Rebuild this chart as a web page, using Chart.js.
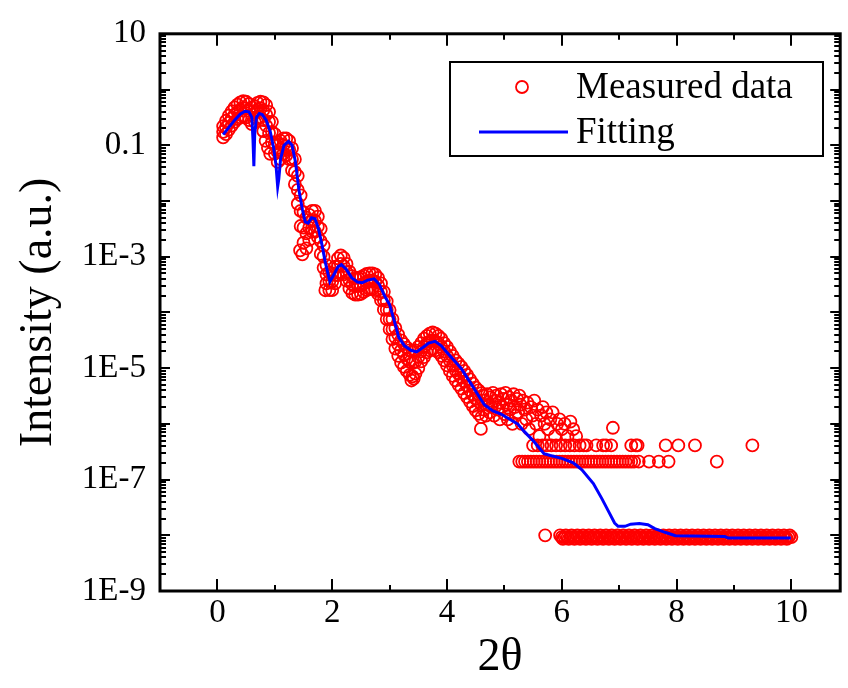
<!DOCTYPE html>
<html>
<head>
<meta charset="utf-8">
<script src="https://cdn.jsdelivr.net/npm/chart.js@4.4.1/dist/chart.umd.min.js"></script>
<style>
  html, body { margin: 0; padding: 0; background: #fff; }
  #wrap { width: 848px; height: 688px; }
</style>
</head>
<body>
<div id="wrap"><canvas id="myChart" width="848" height="688"></canvas></div>
<script>
// tick labels
const xTickValues = [0, 2, 4, 6, 8, 10];
const yTickValues = [10, 0.1, 1e-3, 1e-5, 1e-7, 1e-9];
const yTickLabels = ['10', '0.1', '1E-3', '1E-5', '1E-7', '1E-9'];

// fitted curve
const fitX = [0.10, 0.20, 0.30, 0.40, 0.48, 0.55, 0.60, 0.62, 0.635, 0.65, 0.68, 0.73, 0.78, 0.85, 0.92, 0.98,
    1.02, 1.05, 1.07, 1.10, 1.16, 1.24, 1.30, 1.36, 1.42, 1.48, 1.53, 1.58, 1.64, 1.70, 1.76, 1.82, 1.88, 1.96,
    2.04, 2.10, 2.16, 2.24, 2.34, 2.44, 2.52, 2.62, 2.73, 2.82, 2.92, 3.00, 3.08, 3.16, 3.26, 3.37, 3.47, 3.58,
    3.68, 3.79, 3.90, 4.00, 4.12, 4.25, 4.40, 4.55, 4.65, 4.80, 4.94, 5.10, 5.23, 5.34, 5.50, 5.69, 5.80, 6.00,
    6.20, 6.35, 6.55, 6.70, 6.83, 6.92, 6.98, 7.10, 7.20, 7.35, 7.50, 7.62, 7.81, 7.98, 8.84, 8.90, 9.99];
const fitY = [0.155, 0.209, 0.282, 0.363, 0.407, 0.398, 0.316, 0.126, 0.042, 0.158, 0.316, 0.372, 0.355, 0.282, 0.178, 0.089,
    0.045, 0.018, 0.025, 0.056, 0.100, 0.117, 0.100, 0.050, 0.0158, 0.0071, 0.0042, 0.0040, 0.0050, 0.0048, 0.0032, 0.00166, 0.00079, 0.000355,
    0.00050, 0.00066, 0.00072, 0.00060, 0.00042, 0.00035, 0.00034, 0.00038, 0.00040, 0.00032, 0.00019, 0.000138, 7.1e-5, 3.55e-5, 2.51e-5, 2.09e-5, 1.95e-5, 2.34e-5,
    2.82e-5, 3.02e-5, 2.51e-5, 1.91e-5, 1.38e-5, 9.8e-6, 5.6e-6, 3.2e-6, 2.2e-6, 1.7e-6, 1.5e-6, 1.2e-6, 1.0e-6, 7.4e-7, 5.0e-7, 2.9e-7, 2.7e-7, 2.4e-7,
    2.0e-7, 1.5e-7, 8.5e-8, 4.5e-8, 2.5e-8, 1.66e-8, 1.45e-8, 1.45e-8, 1.58e-8, 1.62e-8, 1.55e-8, 1.32e-8, 1.12e-8, 9.8e-9, 9.5e-9, 8.9e-9, 8.9e-9];

// measured data, dense part: one x column with upper / middle / lower edge of the band
const bandX = [0.10, 0.15, 0.20, 0.25, 0.30, 0.35, 0.40, 0.45, 0.50, 0.55, 0.60, 0.65, 0.70, 0.75, 0.80, 0.85, 0.90, 0.95, 1.00,
    1.05, 1.10, 1.15, 1.20, 1.25, 1.30, 1.35, 1.40, 1.45, 1.50, 1.55, 1.60, 1.65, 1.70, 1.75, 1.80, 1.85, 1.90, 1.95, 2.00,
    2.05, 2.10, 2.15, 2.20, 2.25, 2.30, 2.35, 2.40, 2.45, 2.50, 2.55, 2.60, 2.65, 2.70, 2.75, 2.80, 2.85, 2.90, 2.95, 3.00,
    3.05, 3.10, 3.15, 3.20, 3.25, 3.30, 3.35, 3.40, 3.45, 3.50, 3.55, 3.60, 3.65, 3.70, 3.75, 3.80, 3.85, 3.90, 3.95, 4.00,
    4.05, 4.10, 4.15, 4.20, 4.25, 4.30, 4.35, 4.40, 4.45, 4.50, 4.55, 4.60];
const bandUpper = [0.219, 0.275, 0.339, 0.407, 0.479, 0.537, 0.589, 0.617, 0.603, 0.550, 0.479, 0.501, 0.575, 0.603, 0.589, 0.525, 0.398, 0.263, 0.158,
    0.112, 0.120, 0.132, 0.132, 0.120, 0.0891, 0.0562, 0.0282, 0.0126, 0.00631, 0.00501, 0.00562, 0.00661, 0.00661, 0.00525, 0.00316, 0.00158, 0.000708, 0.000525, 0.000501,
    0.000661, 0.000933, 0.00105, 0.000955, 0.000741, 0.000537, 0.000447, 0.000417, 0.000417, 0.000427, 0.000457, 0.000490, 0.000501, 0.000501, 0.000479, 0.000417, 0.000331, 0.000234, 0.000158, 0.000110,
    7.59e-5, 5.25e-5, 3.98e-5, 3.16e-5, 2.69e-5, 2.34e-5, 2.09e-5, 2.00e-5, 2.09e-5, 2.40e-5, 2.82e-5, 3.39e-5, 3.80e-5, 4.17e-5, 4.37e-5, 4.17e-5, 3.80e-5, 3.39e-5, 2.82e-5, 2.40e-5,
    2.00e-5, 1.66e-5, 1.38e-5, 1.20e-5, 1.05e-5, 8.91e-6, 7.59e-6, 6.31e-6, 5.25e-6, 4.47e-6, 3.98e-6, 3.55e-6];
const bandMid = [0.174, 0.209, 0.251, 0.302, 0.355, 0.398, 0.437, 0.468, 0.457, 0.417, 0.355, 0.380, 0.437, 0.457, 0.427, 0.355, 0.263, 0.174, 0.107,
    0.0759, 0.0832, 0.100, 0.0955, 0.0832, 0.0562, 0.0331, 0.0158, 0.00661, 0.00331, 0.00263, 0.00331, 0.00437, 0.00437, 0.00347, 0.00191, 0.00100, 0.000479, 0.000363, 0.000355,
    0.000468, 0.000661, 0.000741, 0.000676, 0.000525, 0.000380, 0.000316, 0.000295, 0.000295, 0.000302, 0.000331, 0.000355, 0.000372, 0.000372, 0.000355, 0.000302, 0.000234, 0.000166, 0.000112, 7.59e-5,
    5.01e-5, 3.55e-5, 2.63e-5, 2.09e-5, 1.74e-5, 1.48e-5, 1.29e-5, 1.23e-5, 1.32e-5, 1.58e-5, 2.00e-5, 2.40e-5, 2.75e-5, 3.02e-5, 3.16e-5, 3.02e-5, 2.75e-5, 2.40e-5, 2.00e-5, 1.66e-5,
    1.35e-5, 1.10e-5, 9.12e-6, 7.94e-6, 6.76e-6, 5.75e-6, 4.79e-6, 3.98e-6, 3.31e-6, 2.82e-6, 2.51e-6, 2.24e-6];
const bandLower = [0.138, 0.158, 0.191, 0.224, 0.263, 0.295, 0.316, 0.331, 0.316, 0.282, 0.240, 0.263, 0.302, 0.316, 0.282, 0.224, 0.166, 0.112, 0.0708,
    0.0501, 0.0562, 0.0708, 0.0661, 0.0562, 0.0355, 0.0200, 0.00891, 0.00355, 0.00178, 0.00141, 0.00200, 0.00282, 0.00282, 0.00224, 0.00112, 0.000631, 0.000331, 0.000251, 0.000251,
    0.000331, 0.000468, 0.000525, 0.000479, 0.000372, 0.000269, 0.000224, 0.000209, 0.000209, 0.000214, 0.000234, 0.000251, 0.000263, 0.000263, 0.000251, 0.000214, 0.000166, 0.000112, 7.59e-5, 5.01e-5,
    3.31e-5, 2.24e-5, 1.66e-5, 1.26e-5, 1.05e-5, 8.91e-6, 7.59e-6, 7.08e-6, 7.94e-6, 1.00e-5, 1.32e-5, 1.58e-5, 1.91e-5, 2.09e-5, 2.19e-5, 2.09e-5, 1.91e-5, 1.66e-5, 1.38e-5, 1.12e-5,
    8.91e-6, 7.24e-6, 6.03e-6, 5.01e-6, 4.27e-6, 3.55e-6, 3.02e-6, 2.51e-6, 2.09e-6, 1.74e-6, 1.51e-6, 1.32e-6];

// scattered measured points (stray circles and the noisy cloud near 5)
const strayPoints = [[0.80, 0.18], [0.84, 0.12], [0.88, 0.09], [0.92, 0.07], [1.44, 0.0013], [1.48, 0.0011], [1.88, 0.00025],
    [3.38, 6.0e-6], [3.42, 6.5e-6], [4.59, 8.1e-7], [6.89, 8.5e-7]];
const cloudPoints = [[4.62, 3.2e-6], [4.64, 1.8e-6], [4.66, 2.6e-6], [4.68, 1.4e-6], [4.70, 3.4e-6], [4.72, 2.2e-6], [4.74, 1.6e-6],
    [4.76, 3.0e-6], [4.78, 2.0e-6], [4.80, 3.6e-6], [4.82, 1.4e-6], [4.84, 2.6e-6], [4.86, 3.2e-6], [4.88, 1.8e-6], [4.90, 2.4e-6],
    [4.92, 1.2e-6], [4.94, 3.4e-6], [4.96, 2.0e-6], [4.98, 2.8e-6], [5.00, 1.5e-6], [5.02, 3.6e-6], [5.04, 2.2e-6], [5.06, 1.2e-6],
    [5.08, 3.0e-6], [5.10, 1.8e-6], [5.12, 2.6e-6], [5.14, 1.0e-6], [5.16, 3.4e-6], [5.18, 2.0e-6], [5.20, 1.4e-6], [5.22, 2.8e-6],
    [5.24, 1.6e-6], [5.26, 3.2e-6], [5.28, 2.2e-6], [5.30, 1.0e-6], [5.32, 2.6e-6], [5.35, 1.8e-6], [5.38, 1.2e-6], [5.40, 2.4e-6],
    [5.43, 8.0e-7], [5.46, 2.0e-6], [5.49, 1.4e-6], [5.52, 2.6e-6], [5.55, 1.0e-6], [5.58, 1.8e-6], [5.61, 6.0e-7], [5.64, 1.4e-6],
    [5.67, 2.0e-6], [5.70, 1.0e-6], [5.73, 1.6e-6], [5.76, 8.0e-7], [5.80, 1.2e-6], [5.84, 1.6e-6], [5.88, 6.0e-7], [5.92, 1.0e-6],
    [5.96, 1.2e-6], [6.00, 8.0e-7], [6.05, 1.0e-6], [6.10, 6.0e-7], [6.15, 1.1e-6], [6.20, 8.0e-7], [6.25, 6.0e-7]];
// counting-limited levels in the tail
const twoCountPoints = [[5.50, 4.1e-7], [5.58, 4.1e-7], [5.66, 4.1e-7], [5.74, 4.1e-7], [5.82, 4.1e-7], [5.90, 4.1e-7], [5.98, 4.1e-7],
    [6.06, 4.1e-7], [6.14, 4.1e-7], [6.22, 4.1e-7], [6.31, 4.1e-7], [6.38, 4.1e-7], [6.43, 4.1e-7], [6.60, 4.1e-7], [6.72, 4.1e-7],
    [6.77, 4.1e-7], [6.86, 4.1e-7], [7.21, 4.1e-7], [7.29, 4.1e-7], [7.32, 4.1e-7], [7.81, 4.1e-7], [8.03, 4.1e-7], [8.32, 4.1e-7], [9.32, 4.1e-7]];
const oneCountPoints = [[5.26, 2.1e-7], [5.31, 2.1e-7], [5.36, 2.1e-7], [5.41, 2.1e-7], [5.46, 2.1e-7], [5.51, 2.1e-7], [5.56, 2.1e-7],
    [5.61, 2.1e-7], [5.66, 2.1e-7], [5.71, 2.1e-7], [5.76, 2.1e-7], [5.81, 2.1e-7], [5.86, 2.1e-7], [5.91, 2.1e-7], [5.96, 2.1e-7],
    [6.01, 2.1e-7], [6.06, 2.1e-7], [6.11, 2.1e-7], [6.16, 2.1e-7], [6.21, 2.1e-7], [6.26, 2.1e-7], [6.31, 2.1e-7], [6.36, 2.1e-7],
    [6.41, 2.1e-7], [6.46, 2.1e-7], [6.51, 2.1e-7], [6.56, 2.1e-7], [6.61, 2.1e-7], [6.66, 2.1e-7], [6.71, 2.1e-7], [6.76, 2.1e-7],
    [6.81, 2.1e-7], [6.86, 2.1e-7], [6.91, 2.1e-7], [6.96, 2.1e-7], [7.01, 2.1e-7], [7.06, 2.1e-7], [7.11, 2.1e-7], [7.16, 2.1e-7],
    [7.21, 2.1e-7], [7.26, 2.1e-7], [7.34, 2.1e-7], [7.52, 2.1e-7], [7.69, 2.1e-7], [7.86, 2.1e-7], [8.70, 2.1e-7]];
const floorPoints = [[5.71, 1.0e-8],
    [5.97, 1.0e-8], [6.00, 0.93e-8], [6.02, 0.86e-8], [6.05, 0.93e-8], [6.07, 1.0e-8], [6.10, 0.93e-8], [6.12, 0.86e-8], [6.15, 0.93e-8],
    [6.17, 1.0e-8], [6.20, 0.93e-8], [6.22, 0.86e-8], [6.25, 0.93e-8], [6.27, 1.0e-8], [6.30, 0.93e-8], [6.32, 0.86e-8], [6.35, 0.93e-8],
    [6.37, 1.0e-8], [6.40, 0.93e-8], [6.42, 0.86e-8], [6.45, 0.93e-8], [6.47, 1.0e-8], [6.50, 0.93e-8], [6.52, 0.86e-8], [6.55, 0.93e-8],
    [6.57, 1.0e-8], [6.60, 0.93e-8], [6.62, 0.86e-8], [6.65, 0.93e-8], [6.67, 1.0e-8], [6.70, 0.93e-8], [6.72, 0.86e-8], [6.75, 0.93e-8],
    [6.77, 1.0e-8], [6.80, 0.93e-8], [6.82, 0.86e-8], [6.85, 0.93e-8], [6.87, 1.0e-8], [6.90, 0.93e-8], [6.92, 0.86e-8], [6.95, 0.93e-8],
    [6.97, 1.0e-8], [7.00, 0.93e-8], [7.02, 0.86e-8], [7.05, 0.93e-8], [7.07, 1.0e-8], [7.10, 0.93e-8], [7.12, 0.86e-8], [7.15, 0.93e-8],
    [7.17, 1.0e-8], [7.20, 0.93e-8], [7.22, 0.86e-8], [7.25, 0.93e-8], [7.27, 1.0e-8], [7.30, 0.93e-8], [7.32, 0.86e-8], [7.35, 0.93e-8],
    [7.37, 1.0e-8], [7.40, 0.93e-8], [7.42, 0.86e-8], [7.45, 0.93e-8], [7.47, 1.0e-8], [7.50, 0.93e-8], [7.52, 0.86e-8], [7.55, 0.93e-8],
    [7.57, 1.0e-8], [7.60, 0.93e-8], [7.62, 0.86e-8], [7.65, 0.93e-8], [7.67, 1.0e-8], [7.70, 0.93e-8], [7.72, 0.86e-8], [7.75, 0.93e-8],
    [7.77, 1.0e-8], [7.80, 0.93e-8], [7.82, 0.86e-8], [7.85, 0.93e-8], [7.87, 1.0e-8], [7.90, 0.93e-8], [7.92, 0.86e-8], [7.95, 0.93e-8],
    [7.97, 1.0e-8], [8.00, 0.93e-8], [8.02, 0.86e-8], [8.05, 0.93e-8], [8.07, 1.0e-8], [8.10, 0.93e-8], [8.12, 0.86e-8], [8.15, 0.93e-8],
    [8.17, 1.0e-8], [8.20, 0.93e-8], [8.22, 0.86e-8], [8.25, 0.93e-8], [8.27, 1.0e-8], [8.30, 0.93e-8], [8.32, 0.86e-8], [8.35, 0.93e-8],
    [8.37, 1.0e-8], [8.40, 0.93e-8], [8.42, 0.86e-8], [8.45, 0.93e-8], [8.47, 1.0e-8], [8.50, 0.93e-8], [8.52, 0.86e-8], [8.55, 0.93e-8],
    [8.57, 1.0e-8], [8.60, 0.93e-8], [8.62, 0.86e-8], [8.65, 0.93e-8], [8.67, 1.0e-8], [8.70, 0.93e-8], [8.72, 0.86e-8], [8.75, 0.93e-8],
    [8.77, 1.0e-8], [8.80, 0.93e-8], [8.82, 0.86e-8], [8.85, 0.93e-8], [8.87, 1.0e-8], [8.90, 0.93e-8], [8.92, 0.86e-8], [8.95, 0.93e-8],
    [8.97, 1.0e-8], [9.00, 0.93e-8], [9.02, 0.86e-8], [9.05, 0.93e-8], [9.07, 1.0e-8], [9.10, 0.93e-8], [9.12, 0.86e-8], [9.15, 0.93e-8],
    [9.17, 1.0e-8], [9.20, 0.93e-8], [9.22, 0.86e-8], [9.25, 0.93e-8], [9.27, 1.0e-8], [9.30, 0.93e-8], [9.32, 0.86e-8], [9.35, 0.93e-8],
    [9.37, 1.0e-8], [9.40, 0.93e-8], [9.42, 0.86e-8], [9.45, 0.93e-8], [9.47, 1.0e-8], [9.50, 0.93e-8], [9.52, 0.86e-8], [9.55, 0.93e-8],
    [9.57, 1.0e-8], [9.60, 0.93e-8], [9.62, 0.86e-8], [9.65, 0.93e-8], [9.67, 1.0e-8], [9.70, 0.93e-8], [9.72, 0.86e-8], [9.75, 0.93e-8],
    [9.77, 1.0e-8], [9.80, 0.93e-8], [9.82, 0.86e-8], [9.85, 0.93e-8], [9.87, 1.0e-8], [9.90, 0.93e-8], [9.92, 0.86e-8], [9.95, 0.93e-8],
    [9.97, 1.0e-8], [10.00, 0.93e-8]];

const FONT = "'Liberation Serif', 'Times New Roman', serif";

let measured = [];
for (let i = 0; i < bandX.length; i++) {
    measured.push({x: bandX[i], y: bandUpper[i]});
    measured.push({x: bandX[i], y: bandMid[i]});
    measured.push({x: bandX[i], y: bandLower[i]});
}
[strayPoints, cloudPoints, twoCountPoints, oneCountPoints, floorPoints].forEach(function (list) {
    list.forEach(function (p) { measured.push({x: p[0], y: p[1]}); });
});
let fitted = fitX.map(function (x, i) { return {x: x, y: fitY[i]}; });

// frame with inward ticks on all four sides
const frame = {
    id: 'frame',
    afterDatasetsDraw(chart) {
        const ctx = chart.ctx;
        const a = chart.chartArea;
        const xs = chart.scales.x, ys = chart.scales.y;
        ctx.save();
        ctx.strokeStyle = '#000';
        ctx.lineWidth = 2;
        ctx.beginPath();
        for (let v = 0; v <= 10; v++) {
            const px = Math.round(xs.getPixelForValue(v));
            const len = v % 2 === 0 ? 12 : 6;
            ctx.moveTo(px, a.bottom); ctx.lineTo(px, a.bottom - len);
            ctx.moveTo(px, a.top); ctx.lineTo(px, a.top + len);
        }
        for (let e = -9; e <= 1; e++) {
            for (let m = 1; m <= 9; m++) {
                const val = m * Math.pow(10, e);
                if (val > 10) break;
                const py = Math.round(ys.getPixelForValue(val));
                const len = m === 1 ? 10 : 6;
                ctx.moveTo(a.left, py); ctx.lineTo(a.left + len, py);
                ctx.moveTo(a.right, py); ctx.lineTo(a.right - len, py);
            }
        }
        ctx.stroke();
        ctx.lineWidth = 3;
        ctx.strokeRect(a.left, a.top, a.right - a.left, a.bottom - a.top);
        ctx.restore();
    }
};

// legend box inside the plot
const boxLegend = {
    id: 'boxLegend',
    afterDraw(chart) {
        const ctx = chart.ctx;
        ctx.save();
        ctx.strokeStyle = '#000';
        ctx.lineWidth = 2;
        ctx.strokeRect(450, 62, 373, 94);
        ctx.strokeStyle = '#ff0000';
        ctx.lineWidth = 1.8;
        ctx.beginPath();
        ctx.arc(522, 87, 6, 0, Math.PI * 2);
        ctx.stroke();
        ctx.strokeStyle = '#0000ff';
        ctx.lineWidth = 3;
        ctx.beginPath();
        ctx.moveTo(479, 132); ctx.lineTo(568, 132);
        ctx.stroke();
        ctx.fillStyle = '#000';
        ctx.font = '37px ' + FONT;
        ctx.textBaseline = 'middle';
        ctx.fillText('Measured data', 576, 88);
        ctx.fillText('Fitting', 576, 133);
        ctx.restore();
    }
};

let ctx = document.getElementById('myChart').getContext('2d');
let chart = new Chart(ctx, {
    type: 'scatter',
    data: {
        datasets: [{
            type: 'line',
            label: 'Fitting',
            data: fitted,
            borderColor: '#0000ff',
            borderWidth: 3,
            pointRadius: 0,
            fill: false,
            tension: 0,
            order: 0
        }, {
            label: 'Measured data',
            data: measured,
            pointStyle: 'circle',
            pointRadius: 6,
            borderWidth: 1.8,
            borderColor: '#ff0000',
            backgroundColor: 'rgba(0,0,0,0)',
            order: 1
        }]
    },
    options: {
        responsive: false,
        animation: false,
        devicePixelRatio: 1,
        layout: { padding: { top: 29, right: 2, left: 0, bottom: 0 } },
        plugins: {
            legend: { display: false },
            tooltip: { enabled: false }
        },
        scales: {
            x: {
                type: 'linear',
                min: -1,
                max: 10.85,
                grid: { display: false, drawTicks: false },
                border: { display: false },
                afterBuildTicks: function (scale) {
                    scale.ticks = xTickValues.map(function (v) { return {value: v}; });
                },
                afterFit: function (scale) { scale.height = 97; },
                ticks: {
                    color: '#000',
                    padding: 3,
                    maxRotation: 0,
                    font: { family: FONT, size: 33 }
                },
                title: {
                    display: true,
                    text: '2θ',
                    color: '#000',
                    padding: { top: 0, bottom: 2 },
                    font: { family: FONT, size: 46, lineHeight: 1.2 }
                }
            },
            y: {
                type: 'logarithmic',
                min: 1e-9,
                max: 10,
                grid: { display: false, drawTicks: false },
                border: { display: false },
                afterBuildTicks: function (scale) {
                    scale.ticks = yTickValues.map(function (v) { return {value: v}; });
                },
                afterFit: function (scale) { scale.width = 160; },
                ticks: {
                    color: '#000',
                    padding: 14,
                    font: { family: FONT, size: 33 },
                    callback: function (value) {
                        const i = yTickValues.findIndex(function (t) { return Math.abs(Math.log10(t) - Math.log10(value)) < 1e-6; });
                        return i >= 0 ? yTickLabels[i] : '';
                    }
                },
                title: {
                    display: true,
                    text: 'Intensity (a.u.)',
                    color: '#000',
                    padding: { top: 11, bottom: 0 },
                    font: { family: FONT, size: 46, lineHeight: 1.2 }
                }
            }
        }
    },
    plugins: [frame, boxLegend]
});
</script>
</body>
</html>
